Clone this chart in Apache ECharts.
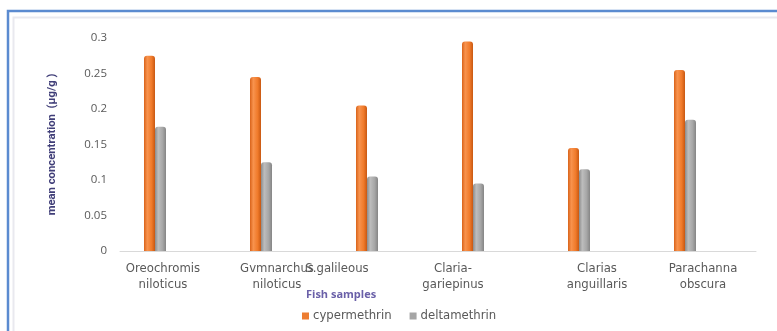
<!DOCTYPE html>
<html>
<head>
<meta charset="utf-8">
<script src="https://cdn.jsdelivr.net/npm/echarts@6/dist/echarts.min.js"></script>
<style>
  html, body { margin: 0; padding: 0; background: #ffffff; }
  #chart { width: 777px; height: 331px; }
</style>
</head>
<body>
<div id="chart"></div>
<script>
// Fish species sampled
const categories = [
  'Oreochromis\nniloticus',
  'Gvmnarchus\nniloticus',
  'S.galileous',
  'Claria-\ngariepinus',
  'Clarias\nanguillaris',
  'Parachanna\nobscura'
];
// Mean pesticide concentration (µg/g) per species
const cypermethrin = [0.275, 0.245, 0.205, 0.295, 0.145, 0.255];
const deltamethrin = [0.175, 0.125, 0.105, 0.095, 0.115, 0.185];
// Y-axis tick values
const yTicks = [0, 0.05, 0.1, 0.15, 0.2, 0.25, 0.3];

// Horizontal nudge (right padding) for a few wrapped category labels
const labelPadRight = [20, 4, 96, 76, 0, 0];

const orangeFill = new echarts.graphic.LinearGradient(0, 0, 1, 0, [
  { offset: 0, color: '#D9631A' },
  { offset: 0.3, color: '#F8934E' },
  { offset: 0.7, color: '#F07A2A' },
  { offset: 1, color: '#C85812' }
]);
const greyFill = new echarts.graphic.LinearGradient(0, 0, 1, 0, [
  { offset: 0, color: '#8C8C8C' },
  { offset: 0.3, color: '#BDBDBD' },
  { offset: 0.7, color: '#A6A6A6' },
  { offset: 1, color: '#858585' }
]);

const labelFont = 'DejaVu Sans';
const labelSize = 11.7;

const chart = echarts.init(document.getElementById('chart'), null, { renderer: 'canvas' });

chart.setOption({
  animation: false,
  backgroundColor: '#ffffff',
  textStyle: { fontFamily: labelFont },
  graphic: [
    {
      type: 'rect', silent: true,
      shape: { x: 8, y: 11, width: 820, height: 400 },
      style: { fill: null, stroke: '#5B8BD0', lineWidth: 2.5 }
    },
    {
      type: 'rect', silent: true,
      shape: { x: 13.5, y: 17.5, width: 820, height: 400 },
      style: { fill: null, stroke: '#E9E9EF', lineWidth: 2 }
    }
  ],
  title: {
    text: 'Fish samples',
    left: 301,
    top: 284,
    textStyle: { fontSize: 11, fontWeight: 'bold', color: '#6A60A8', fontFamily: 'Open Sans' }
  },
  legend: {
    data: [
      { name: 'cypermethrin', itemStyle: { color: '#ED7D31' } },
      { name: 'deltamethrin', itemStyle: { color: '#A5A5A5' } }
    ],
    left: 297,
    top: 305,
    itemWidth: 7,
    itemHeight: 7,
    itemGap: 18,
    icon: 'rect',
    textStyle: { fontSize: labelSize, color: '#595959', fontFamily: labelFont, padding: [0, 0, 0, -1] }
  },
  grid: { left: 120, right: 21, top: 38, bottom: 80 },
  xAxis: {
    type: 'category',
    data: categories.map((c, i) => ({
      value: c,
      textStyle: { padding: [0, labelPadRight[i], 0, 0] }
    })),
    axisLine: { lineStyle: { color: '#D9D9D9', width: 1 } },
    axisTick: { show: false },
    axisLabel: {
      interval: 0,
      fontSize: labelSize,
      fontFamily: labelFont,
      color: '#595959',
      lineHeight: 16,
      margin: 10
    }
  },
  yAxis: {
    type: 'value',
    min: 0,
    max: 0.3,
    interval: 0.05,
    name: 'mean concentration  (μg/g )',
    nameLocation: 'middle',
    nameGap: 62,
    nameTextStyle: { fontSize: 11.3, fontWeight: 'bold', color: '#403E78', fontFamily: 'Roboto' },
    axisLine: { show: false },
    axisTick: { show: false },
    splitLine: { show: false },
    axisLabel: {
      fontSize: 11.5,
      fontFamily: 'Open Sans',
      color: '#595959',
      margin: 13,
      formatter: v => yTicks.includes(+v.toFixed(2)) ? String(+v.toFixed(2)) : ''
    }
  },
  series: [
    {
      name: 'cypermethrin',
      type: 'bar',
      data: cypermethrin,
      barWidth: 11,
      barGap: '0%',
      itemStyle: { color: orangeFill, borderRadius: [3, 3, 0, 0] }
    },
    {
      name: 'deltamethrin',
      type: 'bar',
      data: deltamethrin,
      barWidth: 11,
      itemStyle: { color: greyFill, borderRadius: [3, 3, 0, 0] }
    },
    {
      // empty third slot reserving space beside each pair
      name: 'spacer',
      type: 'bar',
      data: categories.map(() => null),
      barWidth: 36,
      silent: true
    }
  ]
});
</script>
</body>
</html>
